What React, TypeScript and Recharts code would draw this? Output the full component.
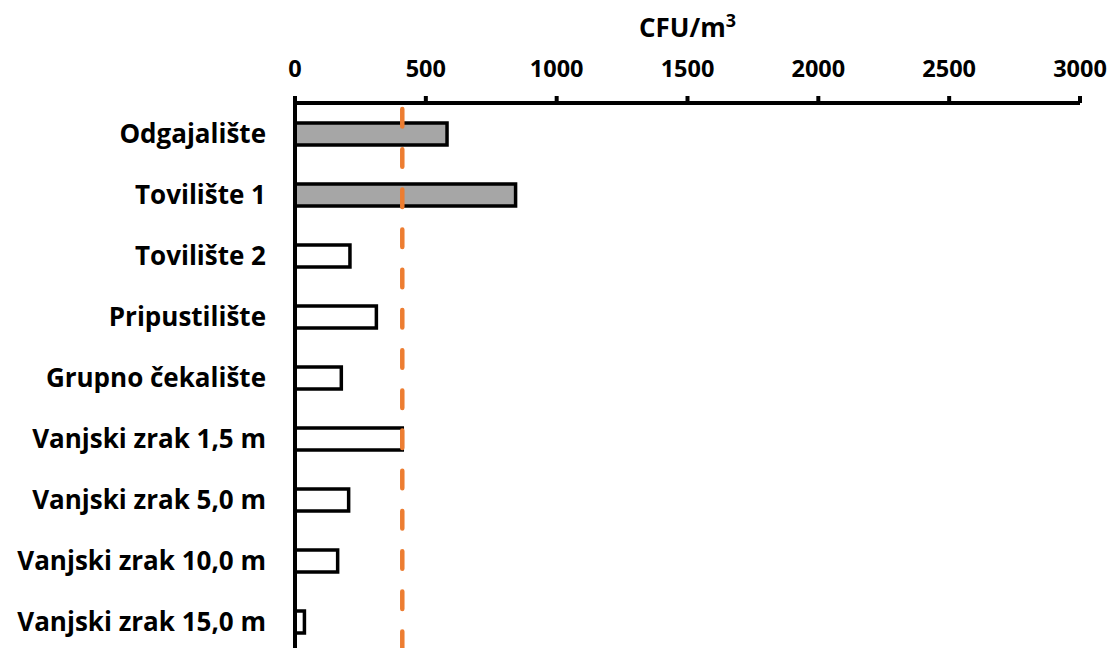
import { BarChart, Bar, XAxis, YAxis, Cell, ReferenceLine } from 'recharts';

const CATEGORIES = [
  'Odgajalište',
  'Tovilište 1',
  'Tovilište 2',
  'Pripustilište',
  'Grupno čekalište',
  'Vanjski zrak 1,5 m',
  'Vanjski zrak 5,0 m',
  'Vanjski zrak 10,0 m',
  'Vanjski zrak 15,0 m',
];

const CFU_VALUES = [581, 843, 210, 311, 177, 410, 205, 163, 36];

const X_TICKS = [0, 500, 1000, 1500, 2000, 2500, 3000];

const LIMIT_VALUE = 410;

const HIGHLIGHTED = ['Odgajalište', 'Tovilište 1'];

const FONT = '"Open Sans", Lato, sans-serif';
const GRAY = '#A6A6A6';
const ORANGE = '#ED7D31';

const chartData = CATEGORIES.map((name, i) => ({ name, value: CFU_VALUES[i] }));

function AxisTitle(props: any) {
  const vb = props.viewBox ?? { x: 0, y: 0, width: 0, height: 0 };
  const cx = vb.x + vb.width / 2;
  return (
    <text
      x={cx}
      y={37}
      textAnchor="middle"
      fontFamily={FONT}
      fontWeight={700}
      fontSize={26}
      fill="#000"
    >
      CFU/m
      <tspan dy={-10} fontSize={18}>
        3
      </tspan>
    </text>
  );
}

export default function App() {
  return (
    <div
      style={{
        position: 'fixed',
        top: 0,
        left: 0,
        width: 1111,
        height: 648,
        overflow: 'hidden',
        background: '#fff',
      }}
    >
      <BarChart
        width={1111}
        height={652}
        data={chartData}
        layout="vertical"
        margin={{ top: 0, right: 31, left: 0, bottom: 0 }}
        barSize={22}
      >
        <XAxis
          type="number"
          orientation="top"
          domain={[0, 3000]}
          ticks={X_TICKS}
          height={103}
          interval={0}
          axisLine={{ stroke: '#000', strokeWidth: 4 }}
          tickLine={{ stroke: '#000', strokeWidth: 4 }}
          tickSize={7}
          tickMargin={19}
          tick={{ fontFamily: FONT, fontWeight: 700, fontSize: 23.5, fill: '#000' }}
          label={<AxisTitle />}
        />
        <YAxis
          type="category"
          dataKey="name"
          width={295}
          interval={0}
          axisLine={{ stroke: '#000', strokeWidth: 4 }}
          tickLine={false}
          tickSize={0}
          tickMargin={29}
          tick={{ fontFamily: FONT, fontWeight: 700, fontSize: 26, fill: '#000' }}
        />
        <Bar dataKey="value" stroke="#000" strokeWidth={3.5} isAnimationActive={false}>
          {chartData.map((d) => (
            <Cell key={d.name} fill={HIGHLIGHTED.includes(d.name) ? GRAY : '#fff'} />
          ))}
        </Bar>
        <ReferenceLine
          x={LIMIT_VALUE}
          stroke={ORANGE}
          strokeWidth={4.5}
          strokeDasharray="17.5 22.7"
          strokeDashoffset={-6}
          strokeLinecap="round"
          ifOverflow="visible"
        />
      </BarChart>
    </div>
  );
}
